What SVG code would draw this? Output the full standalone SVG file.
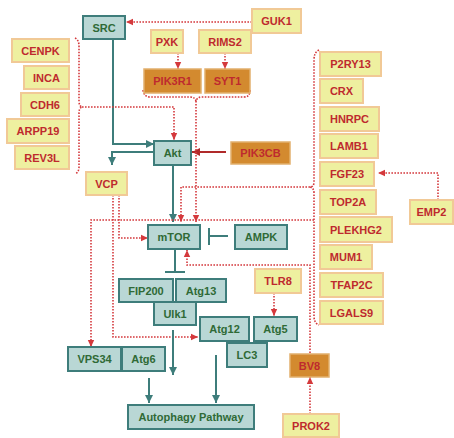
<svg xmlns="http://www.w3.org/2000/svg" width="454" height="438" viewBox="0 0 454 438">
<defs>
<style>
text{font-family:"Liberation Sans",Arial,sans-serif;font-weight:bold;font-size:11px;text-anchor:middle;dominant-baseline:central}
.t rect{fill:#b9d7d5;stroke:#3e7d7b;stroke-width:2}
.t text{fill:#2f6a36}
.y rect{fill:#eef0a0;stroke:#f1c996;stroke-width:2}
.y text{fill:#be2a2e}
.o rect{fill:#d38a2f;stroke:#e2b06e;stroke-width:1.5}
.o text{fill:#be2a2e}
.sol{fill:none;stroke:#3e7d7b;stroke-width:2}
.dot{fill:none;stroke:#d4393c;stroke-width:1.6;stroke-dasharray:1.6 1.4}
.dr{fill:none;stroke:#b02a2a;stroke-width:2}
</style>
<marker id="ta" markerUnits="userSpaceOnUse" markerWidth="10" markerHeight="10" refX="9" refY="5" orient="auto"><path d="M1,1 L9,5 L1,9 z" fill="#3e7d7b"/></marker>
<marker id="ra" markerUnits="userSpaceOnUse" markerWidth="8" markerHeight="8" refX="7" refY="4" orient="auto"><path d="M0,0.8 L7,4 L0,7.2 z" fill="#d4393c"/></marker>
<marker id="da" markerUnits="userSpaceOnUse" markerWidth="10" markerHeight="10" refX="9" refY="5" orient="auto"><path d="M1,1 L9,5 L1,9 z" fill="#b02a2a"/></marker>
</defs>
<rect width="454" height="438" fill="#ffffff"/>
<g id="connectors">
<path class="dot" d="M252,22 H126" marker-end="url(#ra)"/>
<path class="dot" d="M178,53 V69" marker-end="url(#ra)"/>
<path class="dot" d="M225,53 V69" marker-end="url(#ra)"/>
<path class="sol" d="M113,39 V144 H154" marker-end="url(#ta)"/>
<path class="sol" d="M154,152 H112 V165" marker-end="url(#ta)"/>
<path class="sol" d="M173,165 V222" marker-end="url(#ta)"/>
<path class="dr" d="M226,152 H192" marker-end="url(#da)"/>
<path class="dot" d="M75,38 Q79,40 79,46 V101 Q79,106 82,107 Q79,108 79,113 V167 Q79,172 75,174"/>
<path class="dot" d="M82,107 H174 V140" marker-end="url(#ra)"/>
<path class="dot" d="M143,90 Q144,97 150,97 H190 Q195,97 196,101 Q197,97 202,97 H244 Q250,97 250,90"/>
<path class="dot" d="M196,101 V222" marker-end="url(#ra)"/>
<path class="dot" d="M319,50 Q314,52 314,60 V182 Q314,187 310,187 Q314,188 314,193 V316 Q314,323 319,325"/>
<path class="dot" d="M310,187 H181 V222" marker-end="url(#ra)"/>
<path class="dot" d="M314,220 H91 V347" marker-end="url(#ra)"/>
<path class="dot" d="M119,195 V238 H148" marker-end="url(#ra)"/>
<path class="dot" d="M113,195 V337 H198" marker-end="url(#ra)"/>
<path class="sol" d="M175,250 V272 M165,272 H185"/>
<path class="sol" d="M228,236 H209 M209,228 V245"/>
<path class="dot" d="M310,353 V265 H187 V250" marker-end="url(#ra)"/>
<path class="dot" d="M310,414 V377" marker-end="url(#ra)"/>
<path class="dot" d="M274,293 V316" marker-end="url(#ra)"/>
<path class="dot" d="M438,200 V173 H378" marker-end="url(#ra)"/>
<path class="sol" d="M173,330 V375" marker-end="url(#ta)"/>
<path class="sol" d="M149,378 V403" marker-end="url(#ta)"/>
<path class="sol" d="M216,355 V403" marker-end="url(#ta)"/>
</g>
<g id="SRC" class="t"><rect x="83" y="16" width="42" height="23"/><text x="104" y="28">SRC</text></g>
<g id="GUK1" class="y"><rect x="252" y="9" width="49" height="24"/><text x="276.5" y="21">GUK1</text></g>
<g id="PXK" class="y"><rect x="151" y="30" width="32" height="23"/><text x="167" y="42">PXK</text></g>
<g id="RIMS2" class="y"><rect x="199" y="30" width="52" height="23"/><text x="225" y="42">RIMS2</text></g>
<g id="PIK3R1" class="o"><rect x="144" y="69" width="57" height="24"/><text x="172.5" y="81">PIK3R1</text></g>
<g id="SYT1" class="o"><rect x="205" y="69" width="45" height="24"/><text x="227.5" y="81">SYT1</text></g>
<g id="CENPK" class="y"><rect x="12" y="39" width="57" height="23"/><text x="40.5" y="51">CENPK</text></g>
<g id="INCA" class="y"><rect x="24" y="66" width="45" height="23"/><text x="46.5" y="78">INCA</text></g>
<g id="CDH6" class="y"><rect x="21" y="93" width="48" height="23"/><text x="45" y="105">CDH6</text></g>
<g id="ARPP19" class="y"><rect x="7" y="119" width="62" height="24"/><text x="38" y="131">ARPP19</text></g>
<g id="REV3L" class="y"><rect x="15" y="146" width="54" height="23"/><text x="42" y="158">REV3L</text></g>
<g id="Akt" class="t"><rect x="154" y="141" width="37" height="24"/><text x="172.5" y="153">Akt</text></g>
<g id="PIK3CB" class="o"><rect x="231" y="142" width="59" height="22"/><text x="260.5" y="153">PIK3CB</text></g>
<g id="VCP" class="y"><rect x="86" y="172" width="41" height="23"/><text x="106.5" y="184">VCP</text></g>
<g id="P2RY13" class="y"><rect x="320" y="52" width="61" height="24"/><text x="350.5" y="64">P2RY13</text></g>
<g id="CRX" class="y"><rect x="320" y="79" width="43" height="24"/><text x="341.5" y="91">CRX</text></g>
<g id="HNRPC" class="y"><rect x="320" y="107" width="59" height="24"/><text x="349.5" y="119">HNRPC</text></g>
<g id="LAMB1" class="y"><rect x="320" y="134" width="58" height="24"/><text x="349" y="146">LAMB1</text></g>
<g id="FGF23" class="y"><rect x="320" y="162" width="54" height="24"/><text x="347" y="174">FGF23</text></g>
<g id="TOP2A" class="y"><rect x="320" y="190" width="56" height="24"/><text x="348" y="202">TOP2A</text></g>
<g id="PLEKHG2" class="y"><rect x="320" y="217" width="72" height="25"/><text x="356" y="229.5">PLEKHG2</text></g>
<g id="MUM1" class="y"><rect x="320" y="245" width="52" height="24"/><text x="346" y="257">MUM1</text></g>
<g id="TFAP2C" class="y"><rect x="320" y="273" width="63" height="24"/><text x="351.5" y="285">TFAP2C</text></g>
<g id="LGALS9" class="y"><rect x="320" y="301" width="63" height="23"/><text x="351.5" y="313">LGALS9</text></g>
<g id="EMP2" class="y"><rect x="410" y="200" width="43" height="24"/><text x="431.5" y="212">EMP2</text></g>
<g id="mTOR" class="t"><rect x="148" y="225" width="52" height="24"/><text x="174" y="237">mTOR</text></g>
<g id="AMPK" class="t"><rect x="235" y="225" width="52" height="24"/><text x="261" y="237">AMPK</text></g>
<g id="FIP200" class="t"><rect x="119" y="279" width="54" height="23"/><text x="146" y="291">FIP200</text></g>
<g id="Atg13" class="t"><rect x="176" y="279" width="50" height="23"/><text x="201" y="291">Atg13</text></g>
<g id="Ulk1" class="t"><rect x="154" y="302" width="42" height="23"/><text x="175" y="314">Ulk1</text></g>
<g id="TLR8" class="y"><rect x="255" y="269" width="46" height="24"/><text x="278" y="281">TLR8</text></g>
<g id="Atg12" class="t"><rect x="200" y="317" width="49" height="24"/><text x="224.5" y="329">Atg12</text></g>
<g id="Atg5" class="t"><rect x="254" y="317" width="43" height="24"/><text x="275.5" y="329">Atg5</text></g>
<g id="LC3" class="t"><rect x="227" y="343" width="40" height="24"/><text x="247" y="355">LC3</text></g>
<g id="VPS34" class="t"><rect x="68" y="347" width="53" height="24"/><text x="94.5" y="359">VPS34</text></g>
<g id="Atg6" class="t"><rect x="122" y="347" width="43" height="24"/><text x="143.5" y="359">Atg6</text></g>
<g id="BV8" class="o"><rect x="290" y="354" width="39" height="23"/><text x="309.5" y="366">BV8</text></g>
<g id="AutophagyPathway" class="t"><rect x="128" y="405" width="126" height="24"/><text x="191" y="417">Autophagy Pathway</text></g>
<g id="PROK2" class="y"><rect x="283" y="414" width="56" height="23"/><text x="311" y="426">PROK2</text></g>
</svg>
